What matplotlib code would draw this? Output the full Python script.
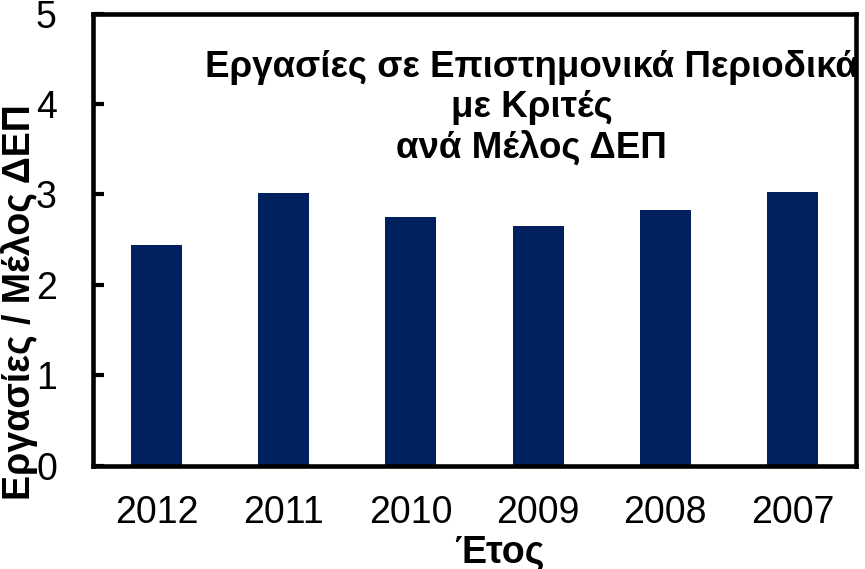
import matplotlib
matplotlib.use('Agg')
from matplotlib import pyplot as plt

years = ['2012', '2011', '2010', '2009', '2008', '2007']
papers_per_member = [2.44, 3.01, 2.75, 2.65, 2.83, 3.03]

plt.rcParams['font.family'] = ['Liberation Sans', 'DejaVu Sans']

fig = plt.figure(figsize=(8.65, 5.69), dpi=100)
ax = fig.add_axes([93 / 865, (569 - 465.5) / 569, (856 - 93) / 865, (465.5 - 13.5) / 569])

x = range(len(years))
ax.bar(x, papers_per_member, width=0.4, color='#002060')
ax.set_xlim(-0.5, len(years) - 0.5)
ax.set_ylim(0, 5)
ax.set_yticks(range(0, 6))
ax.set_xticks(list(x))
ax.set_xticklabels(years)

for side in ['left', 'right', 'top', 'bottom']:
    ax.spines[side].set_linewidth(3.3)
    ax.spines[side].set_color('black')

ax.tick_params(axis='y', direction='in', length=8, width=3, labelsize=27, pad=26)
ax.tick_params(axis='x', length=0, labelsize=27, pad=21)

ax.set_xlabel('Έτος', fontsize=27, fontweight='bold')
ax.xaxis.label.set_va('baseline')
ax.xaxis.set_label_coords(0.532, -0.2135)
ax.set_ylabel('Εργασίες / Μέλος ΔΕΠ', fontsize=27, fontweight='bold')
ax.yaxis.set_label_coords(-0.0725, 0.362)

# title sits inside the plot area, runs past the right frame
ax.text(0.575, 0.791, 'Εργασίες σε Επιστημονικά Περιοδικά\nμε Κριτές\nανά Μέλος ΔΕΠ',
        transform=ax.transAxes, ha='center', va='center', fontsize=26.5,
        fontweight='bold', linespacing=1.2, clip_on=False)

fig.savefig('out.png', dpi=100)
